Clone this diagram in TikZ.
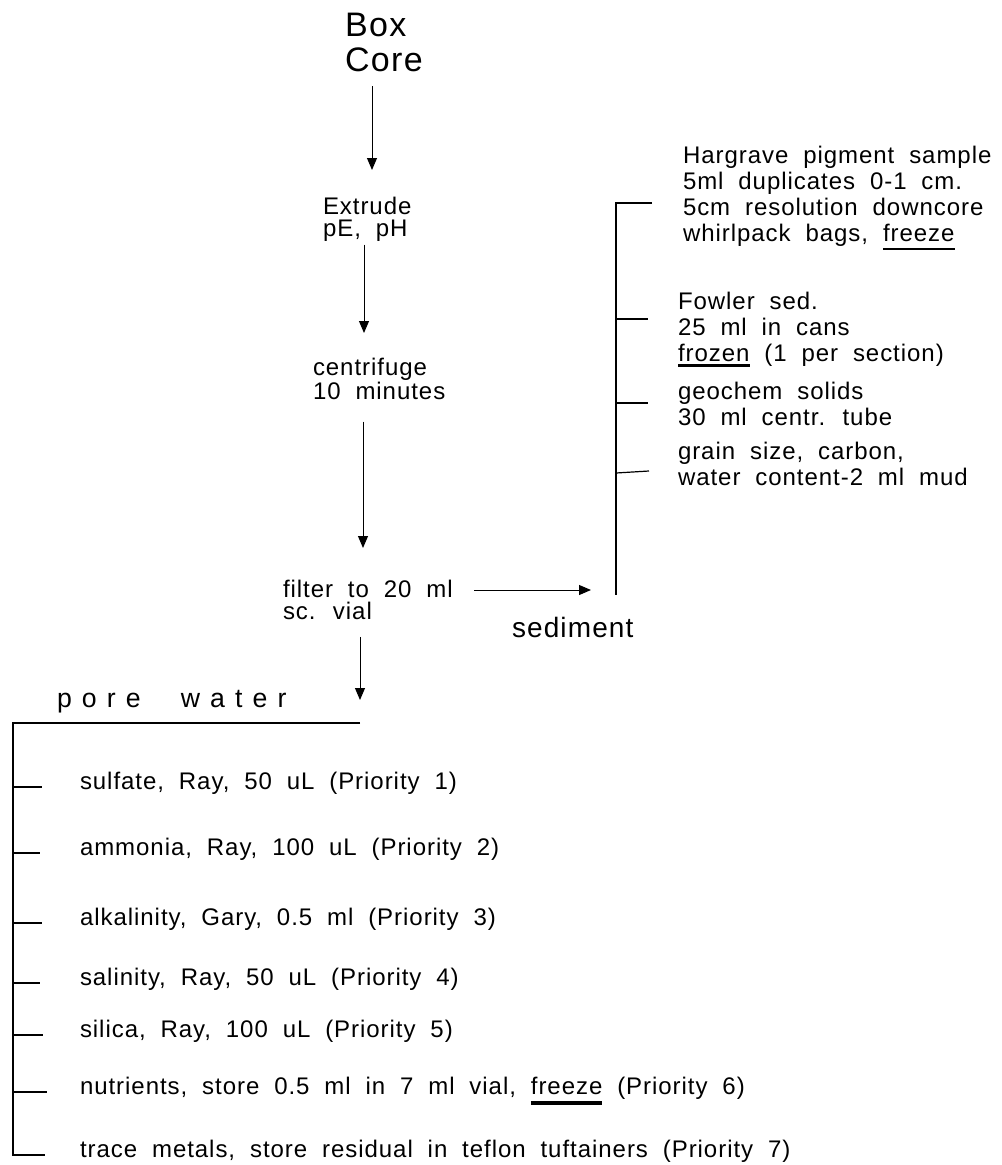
\documentclass[tikz,border=0pt]{standalone}
\usepackage{fontspec}
\setmainfont{Liberation Sans}[LetterSpace=4,WordSpace=1.95]
\usetikzlibrary{arrows.meta}
\newcommand{\ulw}[3]{\setbox0\hbox{#1}\rlap{\rule[-#2]{\wd0}{#3}}\box0\relax}
\begin{document}
\begin{tikzpicture}[x=0.75pt,y=-0.75pt,
  lbl/.style={inner sep=0pt, outer sep=0pt, align=left},
  colnode/.style={lbl, anchor=north west, font=\fontsize{18}{16.5}\selectfont},
  sidenode/.style={lbl, anchor=north west, font=\fontsize{18}{19.5}\selectfont},
  itemnode/.style={lbl, anchor=base west, font=\fontsize{18}{20}\selectfont},
  flowarrow/.style={line width=0.75pt, -{Triangle[length=9pt,width=7.5pt]}},
  bracket/.style={line width=0.9pt}]
\useasboundingbox (0,0) rectangle (1001,1165);

% main column
\node[lbl, anchor=north west, font=\fontsize{25.5}{26.25}\selectfont] (box) at (345,13) {Box\\Core};
\node[colnode] (extrude) at (323,197) {Extrude\\pE, pH};
\node[colnode] (centrifuge) at (313,358) {centrifuge\\10 minutes};
\node[colnode] (filter) at (283,580) {filter to 20 ml\\sc. vial};
\node[lbl, anchor=base west, font=\fontsize{20}{24}\selectfont\addfontfeatures{LetterSpace=38}] (pore) at (57,707) {pore\hspace{30pt}water};
\node[lbl, anchor=base west, font=\fontsize{21}{25}\selectfont] (sediment) at (512,637) {sediment};

% sediment samples
\node[sidenode] (harg) at (683,146) {Hargrave pigment sample\\5ml duplicates 0-1 cm.\\5cm resolution downcore\\whirlpack bags, \ulw{freeze}{6.4pt}{1.1pt}};
\node[sidenode] (fowler) at (678,292) {Fowler sed.\\25 ml in cans\\\ulw{frozen}{4.5pt}{2.2pt} (1 per section)};
\node[sidenode] (geochem) at (678,382) {geochem solids\\30 ml centr. tube};
\node[sidenode] (grain) at (678,442) {grain size, carbon,\\water content-2 ml mud};

% pore water items
\node[itemnode] (i1) at (80,789) {sulfate, Ray, 50 uL (Priority 1)};
\node[itemnode] (i2) at (80,855) {ammonia, Ray, 100 uL (Priority 2)};
\node[itemnode] (i3) at (80,925) {alkalinity, Gary, 0.5 ml (Priority 3)};
\node[itemnode] (i4) at (80,985) {salinity, Ray, 50 uL (Priority 4)};
\node[itemnode] (i5) at (80,1037) {silica, Ray, 100 uL (Priority 5)};
\node[itemnode] (i6) at (80,1094) {nutrients, store 0.5 ml in 7 ml vial, \ulw{freeze}{8pt}{2.6pt} (Priority 6)};
\node[itemnode] (i7) at (80,1157) {trace metals, store residual in teflon tuftainers (Priority 7)};

% helper coordinates
\coordinate (x1) at (372,0);
\coordinate (x2) at (364,0);
\coordinate (x3) at (363,0);
\coordinate (pwL) at (13,723);
\coordinate (pwR) at (360,723);
\coordinate (pwB) at (13,1155);
\coordinate (sedTop) at (616,203);
\coordinate (sedBot) at (616,595);
\coordinate (sedArr) at (616,590);

% arrows of the main column
\draw[flowarrow, shorten <=11pt, shorten >=20.25pt] (box.south -| x1) -- (extrude.north -| x1);
\draw[flowarrow, shorten <=2.5pt, shorten >=18.75pt] (extrude.south -| x2) -- (centrifuge.north -| x2);
\draw[flowarrow, shorten <=16.8pt, shorten >=24pt] (centrifuge.south -| x3) -- (filter.north -| x3);
\draw[flowarrow, shorten <=13pt, shorten >=17.25pt] (filter.south -| pwR) -- (pwR);
\draw[flowarrow, shorten <=16pt, shorten >=18.75pt] (filter.east |- sedArr) -- (sedArr);

% pore water bracket
\draw[bracket] (pwR) -- (pwL) -- (pwB) -- ++(32,0);
\foreach \n/\l in {i1/29,i2/27,i3/29,i4/27,i5/30,i6/34}
  \draw[bracket] (pwL |- \n.base) ++(0,-2) -- ++(\l,0);

% sediment bracket
\coordinate (tFow) at (616,319);
\coordinate (tGeo) at (616,403);
\coordinate (tGrain) at (616,473);
\draw[bracket] (sedTop) ++(36,0) -- (sedTop) -- (sedBot);
\draw[bracket] (tFow) -- ++(32,0);
\draw[bracket] (tGeo) -- ++(32,0);
\draw[bracket] (tGrain) -- ++(33,-2);
\end{tikzpicture}
\end{document}
